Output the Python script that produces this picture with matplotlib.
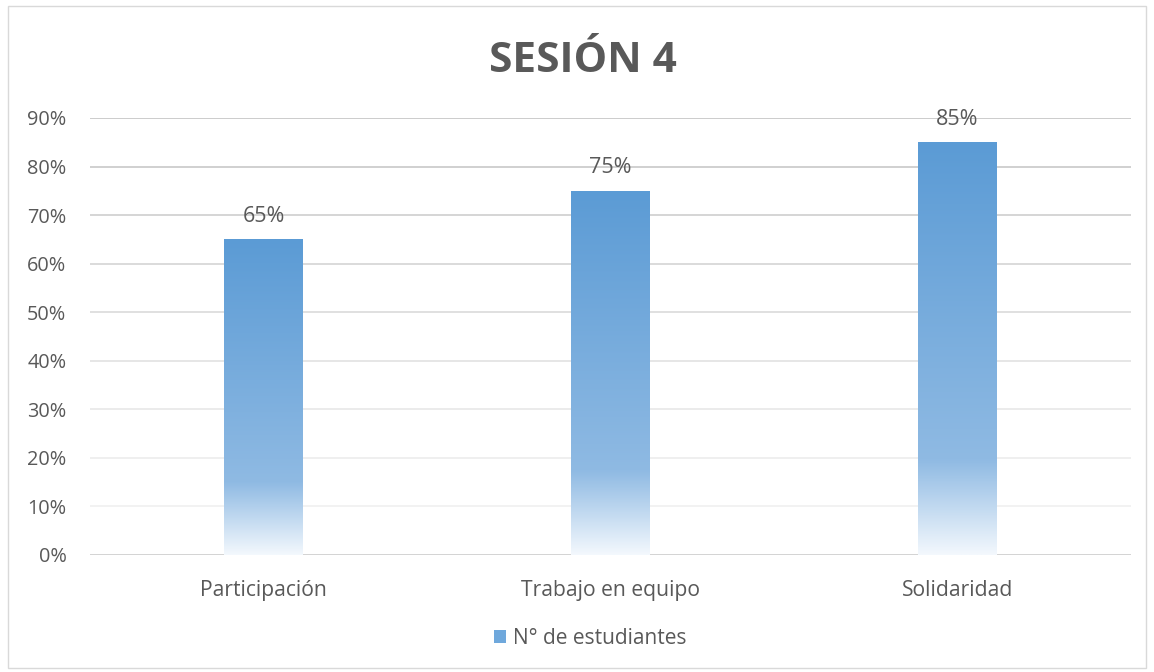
import matplotlib
matplotlib.use("Agg")
import matplotlib.pyplot as plt
import numpy as np
from matplotlib.colors import LinearSegmentedColormap
from matplotlib.patches import Rectangle, Patch

categories = ["Participación", "Trabajo en equipo", "Solidaridad"]
values = [0.65, 0.75, 0.85]
series_name = "N° de estudiantes"
title = "SESIÓN 4"
yticks = [0, 0.1, 0.2, 0.3, 0.4, 0.5, 0.6, 0.7, 0.8, 0.9]

plt.rcParams['font.family'] = ['Open Sans', 'DejaVu Sans']
txt = "#595959"

fig = plt.figure(figsize=(11.54, 6.72), dpi=100)
# outer border
fig.patches.append(Rectangle((8/1154, 4/672), 1138/1154, 662/672, transform=fig.transFigure,
                             fill=False, edgecolor="#d9d9d9", linewidth=1))
ax = fig.add_axes([90/1154, 1 - 555/672, (1131-90)/1154, (555-118)/672])
ax.set_xlim(-0.5, 2.5)
ax.set_ylim(0, 0.9)

for s in ax.spines.values():
    s.set_visible(False)

# gridlines with fading colors
grid_colors = ["#d0d0d0", "#f0f0f0", "#ececec", "#e8e8e8", "#e2e2e2", "#dadada", "#d4d4d4", "#cecece", "#c8c8c8", "#c4c4c4"]
for t, c in zip(yticks, grid_colors):
    ax.axhline(t, color=c, linewidth=1.3 if t == 0 else 1.2, zorder=0)

cmap = LinearSegmentedColormap.from_list("g", [(0.0, "#f3f8fd"), (0.23, "#8fbae3"), (1.0, "#5b9bd5")])
grad = np.linspace(0, 1, 256).reshape(-1, 1)
width = 0.225
bars = ax.bar(range(len(categories)), values, width=width, color="none", zorder=2)
for b, v in zip(bars, values):
    x0 = b.get_x()
    im = ax.imshow(grad, cmap=cmap, origin="lower", aspect="auto",
                   extent=(x0, x0 + width, 0, v), zorder=2)
    im.set_clip_path(b)
    ax.text(b.get_x() + width / 2, v + 0.026, f"{int(round(v*100))}%", ha="center", va="bottom",
            fontsize=15.5, color=txt)
ax.set_xlim(-0.5, 2.5)
ax.set_ylim(0, 0.9)

ax.set_yticks(yticks)
ax.set_yticklabels([f"{int(round(t*100))}%" for t in yticks], fontsize=14.3, color=txt)
ax.set_xticks(range(len(categories)))
ax.set_xticklabels(categories, fontsize=15.2, color=txt)
ax.tick_params(axis="both", length=0)
ax.tick_params(axis="y", pad=17)
ax.tick_params(axis="x", pad=18)

fig.text(583/1154, 1 - 61/672, title, ha="center", va="center", fontsize=30.5, fontweight="bold", color=txt)

leg = fig.legend(handles=[Patch(facecolor="#6fa8dc", edgecolor="none", label=series_name)],
                 loc="center", bbox_to_anchor=(590/1154, 1 - 638/672), frameon=False,
                 fontsize=15, handlelength=0.6, handleheight=0.6, handletextpad=0.3, labelcolor=txt)

fig.savefig("out.png", dpi=100)
